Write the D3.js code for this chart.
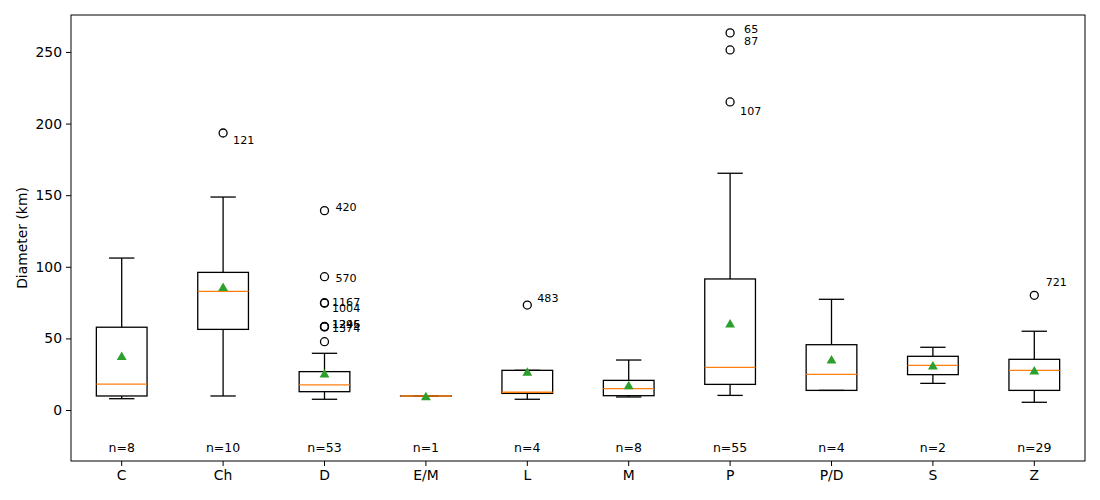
<!DOCTYPE html>
<html lang="en">
<head>
<meta charset="utf-8">
<script src="https://cdn.jsdelivr.net/npm/d3@7/dist/d3.min.js"></script>
<style>
  body { margin: 0; background: #fff; }
  svg text { font-family: "DejaVu Sans", sans-serif; }
</style>
</head>
<body>
<script>
// categories and box statistics (km)
const categories = ["C", "Ch", "D", "E/M", "L", "M", "P", "P/D", "S", "Z"];
const counts = [8, 10, 53, 1, 4, 8, 55, 4, 2, 29];
const whiskerLow = [7.9, 9.8, 7.5, 9.8, 7.5, 9.1, 10.2, 13.7, 18.6, 5.4];
const q1 = [9.8, 56.3, 12.8, 9.8, 11.6, 10.0, 17.9, 13.7, 24.7, 13.7];
const medians = [18.1, 82.9, 17.5, 9.8, 12.4, 14.9, 29.8, 24.9, 31.2, 27.7];
const q3 = [57.8, 96.1, 26.8, 9.8, 27.7, 20.7, 91.5, 45.6, 37.5, 35.4];
const whiskerHigh = [106.1, 148.7, 39.6, 9.8, 27.7, 34.9, 165.3, 77.3, 43.8, 55.0];
const means = [37.9, 86.1, 25.6, 9.8, 26.9, 17.5, 60.5, 35.4, 31.2, 27.7];

// outliers: category, value, label
const outlierCats = ["Ch", "D", "D", "D", "D", "D", "D", "D", "D", "L", "P", "P", "P", "Z"];
const outlierVals = [193.4, 139.2, 93.1, 74.9, 74.6, 58.3, 58.2, 58.0, 47.7, 73.3, 263.3, 251.4, 215.1, 80.1];
const outlierLabels = ["121", "420", "570", "1167", "1004", "1245", "1296", "1374", "", "483", "65", "87", "107", "721"];

const yTicks = [0, 50, 100, 150, 200, 250];

// label nudges in px (dx, dy) so overlapping labels sit like the original
const labelNudge = {
  "121": [10, 7], "420": [11, -3.5], "570": [11, 1], "1167": [7.5, -1], "1004": [7.5, 5],
  "1245": [7.5, -2.4], "1296": [7.5, -2.4], "1374": [7.5, 1.6], "483": [10, -7],
  "65": [14, -3.3], "87": [14, -9.3], "107": [10, 9], "721": [11.4, -13]
};

const W = 1100, H = 500;
const m = { left: 71, right: 15, top: 15, bottom: 39 };

const svg = d3.select("body").append("svg")
  .attr("width", W).attr("height", H);

const x = d3.scaleBand()
  .domain(categories)
  .range([m.left, W - m.right])
  .paddingInner(0).paddingOuter(0);
const bw = x.bandwidth();
const cx = c => x(c) + bw / 2;

const y = d3.scaleLinear()
  .domain([-35.6, 275.8])
  .range([H - m.bottom, m.top]);

const boxW = bw * 0.5;

// axes
const yAxis = svg.append("g")
  .attr("transform", `translate(${m.left},0)`)
  .call(d3.axisLeft(y).tickValues(yTicks).tickSize(5).tickPadding(4));
const xAxis = svg.append("g")
  .attr("transform", `translate(0,${H - m.bottom})`)
  .call(d3.axisBottom(x).tickSize(5).tickPadding(4));
[yAxis, xAxis].forEach(a => {
  a.select(".domain").remove();
  a.selectAll("text").attr("font-size", 13.9).attr("fill", "#000")
    .attr("font-family", "DejaVu Sans, sans-serif");
  a.selectAll("line").attr("stroke", "#000").attr("stroke-width", 1);
});

svg.append("text")
  .attr("transform", `translate(27,${(m.top + H - m.bottom) / 2}) rotate(-90)`)
  .attr("text-anchor", "middle")
  .attr("font-size", 13.9)
  .text("Diameter (km)");

const boxes = categories.map((c, i) => ({
  c, lo: whiskerLow[i], q1: q1[i], med: medians[i], q3: q3[i], hi: whiskerHigh[i], mean: means[i], n: counts[i]
}));

const g = svg.append("g");
const bx = g.selectAll("g.box").data(boxes).join("g").attr("class", "box");

// whiskers
bx.append("line")
  .attr("x1", d => cx(d.c)).attr("x2", d => cx(d.c))
  .attr("y1", d => y(d.q3)).attr("y2", d => y(d.hi))
  .attr("stroke", "#000").attr("stroke-width", 1.3);
bx.append("line")
  .attr("x1", d => cx(d.c)).attr("x2", d => cx(d.c))
  .attr("y1", d => y(d.q1)).attr("y2", d => y(d.lo))
  .attr("stroke", "#000").attr("stroke-width", 1.3);
// caps
[d => d.hi, d => d.lo].forEach(f => {
  bx.append("line")
    .attr("x1", d => cx(d.c) - boxW / 4).attr("x2", d => cx(d.c) + boxW / 4)
    .attr("y1", d => y(f(d))).attr("y2", d => y(f(d)))
    .attr("stroke", "#000").attr("stroke-width", 1.3);
});
// box
bx.append("rect")
  .attr("x", d => cx(d.c) - boxW / 2)
  .attr("width", boxW)
  .attr("y", d => y(d.q3))
  .attr("height", d => Math.max(0.01, y(d.q1) - y(d.q3)))
  .attr("fill", "none").attr("stroke", "#000").attr("stroke-width", 1.3);
// median
bx.append("line")
  .attr("x1", d => cx(d.c) - boxW / 2).attr("x2", d => cx(d.c) + boxW / 2)
  .attr("y1", d => y(d.med)).attr("y2", d => y(d.med))
  .attr("stroke", "#ff7f0e").attr("stroke-width", 1.3);
// mean (matplotlib centres '^' on its bbox, d3 on the centroid -> nudge down)
bx.append("path")
  .attr("d", d3.symbol(d3.symbolTriangle, 42))
  .attr("transform", d => `translate(${cx(d.c)},${y(d.mean) + 1.4})`)
  .attr("fill", "#2ca02c");
// n labels
bx.append("text")
  .attr("x", d => cx(d.c))
  .attr("y", y(-26))
  .attr("dy", "0.35em")
  .attr("text-anchor", "middle")
  .attr("font-size", 12.5)
  .text(d => "n=" + d.n);

// outliers
const outs = outlierVals.map((v, i) => ({ c: outlierCats[i], v, label: outlierLabels[i] }));
g.selectAll("circle.out").data(outs).join("circle")
  .attr("class", "out")
  .attr("cx", d => cx(d.c)).attr("cy", d => y(d.v))
  .attr("r", 4).attr("fill", "none").attr("stroke", "#000").attr("stroke-width", 1.3);
g.selectAll("text.lab").data(outs.filter(d => d.label)).join("text")
  .attr("class", "lab")
  .attr("x", d => cx(d.c) + labelNudge[d.label][0])
  .attr("y", d => y(d.v) + labelNudge[d.label][1])
  .attr("dy", "0.35em")
  .attr("font-size", 11.1)
  .text(d => d.label);

// frame
svg.append("rect")
  .attr("x", m.left).attr("y", m.top)
  .attr("width", W - m.left - m.right).attr("height", H - m.top - m.bottom)
  .attr("fill", "none").attr("stroke", "#000").attr("stroke-width", 1);
</script>
</body>
</html>
